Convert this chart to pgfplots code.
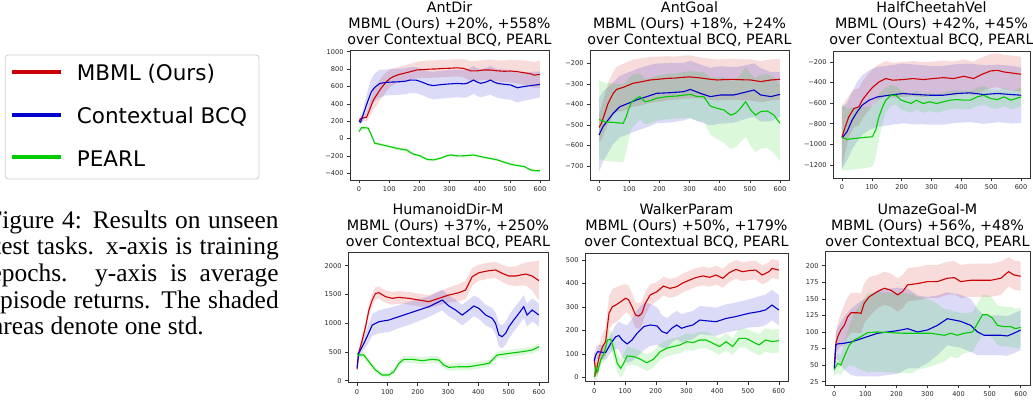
\documentclass[border=0pt]{standalone}
\usepackage{pgfplots}
\pgfplotsset{compat=1.18}
\usepackage{pgfplotstable}
\usepgfplotslibrary{fillbetween}
\usepackage{fontspec}
\setmainfont{Liberation Serif}
\newfontfamily\dv{DejaVu Sans}
\newcommand\tickfont{\dv\fontsize{6.6}{7.5}\selectfont}
\newcommand\titlefont{\dv\fontsize{14.3}{16}\selectfont}
\newcommand\legfont{\dv\fontsize{21.5}{24}\selectfont}
\newcommand\capfont{\rmfamily\fontsize{25.4}{26.7}\selectfont}
\definecolor{cR}{RGB}{204,0,0}
\definecolor{cB}{RGB}{0,0,204}
\definecolor{cG}{RGB}{0,204,0}

% ---------- AntDir ----------
\pgfplotstableread{
x m s
0 200 30
5 230 40
15 240 40
25 245 50
35 330 80
47 440 110
58 500 120
69 560 120
80 610 120
91 655 110
102 690 100
113 712 95
130 735 90
147 750 90
170 770 90
191 790 95
214 795 100
236 800 100
258 802 100
280 808 100
303 810 100
325 815 100
347 808 105
358 795 110
370 780 110
392 780 115
414 790 115
436 790 120
459 780 120
481 775 125
503 778 130
525 770 135
548 758 140
570 745 145
581 730 150
600 740 160
}\adR
\pgfplotstableread{
x m s
0 200 20
5 190 30
12 260 60
19 330 90
30 440 130
41 540 150
52 590 160
69 635 160
86 645 150
102 650 150
120 652 150
136 655 150
153 660 150
169 674 150
191 672 150
214 643 150
230 620 155
247 610 160
263 618 160
280 624 160
303 630 160
325 635 160
347 630 160
358 636 160
380 674 160
392 650 160
403 636 160
420 650 160
436 674 165
448 650 165
459 636 165
481 625 170
503 617 170
525 585 170
540 595 165
559 605 160
580 615 155
600 624 150
}\adB
\pgfplotstableread{
x m s
0 80 15
8 125 15
20 125 15
30 120 15
41 40 15
52 -55 15
69 -65 15
86 -80 15
102 -93 15
120 -108 20
136 -120 20
158 -131 20
170 -160 20
180 -178 15
203 -200 15
225 -239 15
247 -246 15
269 -227 15
290 -200 15
303 -189 15
325 -198 15
336 -200 15
360 -195 15
380 -189 15
400 -205 15
414 -216 15
436 -230 15
459 -246 15
480 -270 15
503 -296 15
525 -310 15
548 -323 15
570 -362 15
585 -370 15
600 -370 15
}\adG
% ---------- AntGoal ----------
\pgfplotstableread{
x m s
0 -512 70
8 -492 80
19 -443 90
30 -395 100
47 -346 105
58 -327 110
80 -317 115
113 -297 115
140 -290 115
169 -281 112
200 -277 110
225 -273 108
250 -272 105
280 -268 105
300 -266 105
336 -271 100
360 -276 100
392 -281 100
420 -279 100
447 -278 100
475 -280 100
503 -281 100
536 -289 100
570 -281 100
600 -278 100
}\agR
\pgfplotstableread{
x m s
0 -549 180
13 -508 170
30 -476 160
47 -443 150
69 -411 150
91 -398 150
125 -378 150
158 -362 150
191 -346 145
236 -343 145
280 -338 140
303 -327 140
336 -346 140
369 -362 140
403 -354 140
447 -354 135
492 -338 130
514 -330 130
536 -354 130
570 -362 120
600 -351 110
}\agB
\pgfplotstableread{
x m s
0 -473 190
20 -485 190
50 -488 190
80 -492 190
90 -460 170
97 -427 150
108 -387 130
125 -370 120
136 -362 110
152 -387 110
169 -382 110
191 -370 110
225 -362 110
258 -359 110
303 -351 115
325 -362 120
347 -362 120
369 -408 140
392 -419 150
414 -427 160
436 -452 165
453 -443 165
469 -419 165
486 -387 170
503 -427 175
519 -452 180
536 -435 180
558 -432 180
580 -452 185
600 -492 185
}\agG
% ---------- HalfCheetahVel ----------
\pgfplotstableread{
x m s
0 -929 300
11 -829 250
23 -732 200
40 -652 180
57 -635 180
68 -571 180
85 -506 180
102 -448 180
124 -394 170
147 -361 170
170 -377 170
204 -371 170
238 -361 170
272 -371 170
306 -361 165
340 -352 165
374 -361 165
408 -339 165
441 -361 165
470 -319 165
498 -287 165
521 -281 165
543 -297 165
566 -306 170
600 -319 170
}\hcR
\pgfplotstableread{
x m s
0 -940 300
17 -877 280
34 -765 280
51 -684 290
68 -619 290
91 -571 290
119 -539 290
158 -523 290
204 -506 290
249 -516 290
294 -523 285
340 -523 285
385 -506 285
430 -500 285
475 -516 285
521 -506 280
566 -516 280
600 -523 270
}\hcB
\pgfplotstableread{
x m s
0 -930 320
17 -952 300
45 -942 300
79 -932 300
102 -926 290
113 -861 260
124 -732 220
136 -635 160
147 -571 120
164 -523 100
181 -523 90
198 -571 90
215 -587 90
232 -603 90
249 -571 90
272 -603 90
294 -587 90
317 -603 90
340 -587 90
362 -571 90
385 -565 90
408 -571 90
430 -571 90
453 -539 90
475 -523 90
498 -555 90
521 -565 90
543 -539 90
566 -571 90
600 -539 90
}\hcG
% ---------- HumanoidDir-M ----------
\pgfplotstableread{
x m s
0 197 30
5 475 60
17 707 80
28 939 100
39 1229 110
50 1403 110
61 1519 110
72 1530 110
94 1461 110
116 1432 110
138 1449 110
171 1432 110
204 1403 110
237 1374 110
270 1432 120
303 1490 130
336 1530 150
358 1577 160
369 1693 160
380 1809 150
402 1878 140
435 1913 140
457 1925 140
479 1867 150
501 1820 160
523 1820 170
556 1855 200
578 1820 250
600 1739 350
}\hdR
\pgfplotstableread{
x m s
0 230 40
5 475 60
17 591 100
33 765 150
50 968 190
72 1026 200
105 1055 210
138 1113 200
171 1171 200
204 1229 190
237 1287 180
259 1345 180
281 1403 180
303 1299 180
325 1229 180
347 1142 180
369 1229 180
385 1299 180
402 1258 180
424 1142 180
446 1084 180
457 997 190
468 794 200
479 765 200
490 823 200
501 939 200
517 1055 200
534 1171 200
550 1287 200
561 1142 200
578 1229 200
600 1142 200
}\hdB
\pgfplotstableread{
x m s
0 475 30
5 446 40
22 446 50
39 330 60
61 185 50
83 99 40
105 99 40
121 156 50
138 301 60
154 371 60
182 371 60
215 348 60
248 371 60
270 359 60
286 272 60
303 232 60
336 243 60
369 243 60
402 272 60
435 301 60
462 446 60
501 475 60
545 504 60
578 533 60
600 591 60
}\hdG
% ---------- WalkerParam ----------
\pgfplotstableread{
x m s
0 81 30
5 17 40
16 88 50
27 131 55
37 152 60
48 273 70
59 301 75
70 308 75
86 322 70
102 337 60
112 330 60
123 301 55
134 266 55
145 261 55
155 273 50
166 315 50
182 351 45
204 365 40
225 389 40
246 379 40
268 386 40
289 403 40
311 415 40
332 426 40
354 432 40
375 426 40
396 436 40
418 422 40
439 446 40
461 460 40
482 450 40
504 455 40
525 457 40
546 436 40
568 450 40
578 464 40
600 457 40
}\wpR
\pgfplotstableread{
x m s
0 70 30
5 95 30
11 109 30
37 105 30
54 145 40
70 173 50
80 178 60
91 159 70
107 142 80
123 159 90
139 187 100
161 216 100
182 223 90
204 219 80
220 195 70
236 187 65
252 209 60
268 223 60
284 209 60
300 216 60
321 223 60
343 244 60
364 241 60
396 237 60
429 251 60
461 259 60
504 273 60
536 280 65
557 287 65
578 308 65
600 287 65
}\wpB
\pgfplotstableread{
x m s
0 0 20
5 45 25
11 24 25
21 74 30
32 102 35
43 159 40
54 162 40
64 116 40
75 60 40
86 38 40
96 60 40
107 91 40
129 88 35
150 77 35
171 62 35
193 77 35
214 109 35
236 124 35
257 131 35
279 138 35
300 152 35
321 148 35
343 159 35
364 159 35
386 145 35
407 131 35
429 152 35
450 131 35
471 166 40
493 166 40
514 152 45
536 138 45
557 159 50
578 152 50
600 156 50
}\wpG
% ---------- UmazeGoal-M ----------
\pgfplotstableread{
x m s
0 45 10
5 83 15
11 93 20
21 103 25
32 110 30
43 123 30
54 129 30
75 129 30
86 128 30
96 143 30
112 153 30
139 161 25
161 166 25
182 163 25
204 156 25
220 161 25
236 171 25
268 173 25
300 176 25
332 176 25
364 181 25
386 182 25
407 176 25
439 178 25
471 178 25
504 178 25
536 181 25
561 191 22
578 186 22
600 184 22
}\umR
\pgfplotstableread{
x m s
0 45 10
5 81 20
11 82 25
32 83 40
54 85 50
75 88 55
107 93 60
139 98 65
171 100 65
204 102 65
236 105 60
268 100 55
300 103 50
332 110 45
364 120 40
386 118 40
407 116 40
439 110 40
461 100 35
482 95 30
504 95 30
536 95 30
557 94 30
578 98 30
600 103 30
}\umB
\pgfplotstableread{
x m s
0 43 10
11 53 15
21 50 15
32 63 20
48 80 30
64 88 40
86 93 50
107 99 60
139 100 60
182 99 60
225 98 60
250 98 60
268 98 55
311 98 50
354 95 40
375 98 35
396 95 35
418 98 30
445 100 30
461 113 30
477 126 30
493 126 30
509 121 30
525 110 30
546 108 30
568 108 30
584 105 30
600 107 30
}\umG

\newcommand{\band}[3]{%
  \addplot[draw=none, forget plot, name path=#3u] table[x=x, y expr=\thisrow{m}+\thisrow{s}] {#1};
  \addplot[draw=none, forget plot, name path=#3l] table[x=x, y expr=\thisrow{m}-\thisrow{s}] {#1};
  \addplot[fill=#2, fill opacity=0.14, draw=none, forget plot] fill between[of=#3u and #3l];
}
\newcommand{\meanline}[2]{\addplot[#2, line width=1.1pt, forget plot] table[x=x, y=m] {#1};}
\newcommand{\threeseries}[3]{%
  \band{#1}{cR}{r}\band{#2}{cB}{b}\band{#3}{cG}{g}%
  \meanline{#1}{cR}\meanline{#2}{cB}\meanline{#3}{cG}%
}

\pgfplotsset{
  panel/.style={
    scale only axis, anchor=south west,
    xmin=-30, xmax=630,
    xtick={0,100,200,300,400,500,600},
    xticklabels={0,100,200,300,400,500,600},
    tick align=outside, tick pos=left, major tick length=3pt,
    axis line style={black!80, line width=0.6pt},
    tick style={black!80, line width=0.5pt},
    tick label style={font=\tickfont, text=black!85},
  }
}

\begin{document}
\begin{tikzpicture}
\path (0pt,0pt) rectangle (1033pt,398pt);

% legend
\draw[black!18, line width=0.8pt, rounded corners=3pt, fill=white] (5.3pt,219pt) rectangle (259pt,343pt);
\draw[cR, line width=4pt] (11.7pt,326.3pt) -- (60.7pt,326.3pt);
\draw[cB, line width=4pt] (11.7pt,283pt) -- (60.7pt,283pt);
\draw[cG, line width=4pt] (11.7pt,241pt) -- (60.7pt,241pt);
\node[font=\legfont, anchor=base west, inner sep=0pt] at (76.7pt,317.3pt) {MBML (Ours)};
\node[font=\legfont, anchor=base west, inner sep=0pt] at (76.7pt,274.7pt) {Contextual BCQ};
\node[font=\legfont, anchor=base west, inner sep=0pt] at (76.7pt,231.3pt) {PEARL};

% caption (left edge cut as in the reference)
\begin{scope}
\clip (0pt,0pt) rectangle (300pt,398pt);
\node[font=\capfont, anchor=base west, inner sep=0pt] at (-12pt,169.7pt) {\makebox[290.5pt][s]{Figure 4: Results on unseen}};
\node[font=\capfont, anchor=base west, inner sep=0pt] at (-6pt,143pt) {\makebox[284.5pt][s]{test tasks. x-axis is training}};
\node[font=\capfont, anchor=base west, inner sep=0pt] at (-9.6pt,116.3pt) {\makebox[288.1pt][s]{epochs. y-axis is average}};
\node[font=\capfont, anchor=base west, inner sep=0pt] at (-11.3pt,89.7pt) {\makebox[289.8pt][s]{episode returns. The shaded}};
\node[font=\capfont, anchor=base west, inner sep=0pt] at (-8pt,63pt) {areas denote one std.};
\end{scope}

% titles
\begin{scope}
\clip (0pt,0pt) rectangle (1033pt,398pt);
\node[font=\titlefont, align=center, anchor=base, inner sep=0pt] at (449.5pt,353pt) {AntDir\\MBML (Ours) +20\%, +558\%\\over Contextual BCQ, PEARL};
\node[font=\titlefont, align=center, anchor=base, inner sep=0pt] at (689.5pt,353pt) {AntGoal\\MBML (Ours) +18\%, +24\%\\over Contextual BCQ, PEARL};
\node[font=\titlefont, align=center, anchor=base, inner sep=0pt] at (931.5pt,353pt) {HalfCheetahVel\\MBML (Ours) +42\%, +45\%\\over Contextual BCQ, PEARL};
\node[font=\titlefont, align=center, anchor=base, inner sep=0pt] at (448pt,151.3pt) {HumanoidDir-M\\MBML (Ours) +37\%, +250\%\\over Contextual BCQ, PEARL};
\node[font=\titlefont, align=center, anchor=base, inner sep=0pt] at (686.5pt,151.3pt) {WalkerParam\\MBML (Ours) +50\%, +179\%\\over Contextual BCQ, PEARL};
\node[font=\titlefont, align=center, anchor=base, inner sep=0pt] at (927.5pt,151.3pt) {UmazeGoal-M\\MBML (Ours) +56\%, +48\%\\over Contextual BCQ, PEARL};
\end{scope}

% AntDir
\begin{axis}[panel, at={(350pt,218pt)}, width=199pt, height=130pt,
  ymin=-477, ymax=1020,
  ytick={-400,-200,0,200,400,600,800,1000},
  yticklabels={−400,−200,0,200,400,600,800,1000}]
\threeseries{\adR}{\adB}{\adG}
\end{axis}
% AntGoal
\begin{axis}[panel, at={(590pt,218pt)}, width=199pt, height=130pt,
  ymin=-768, ymax=-135,
  ytick={-700,-600,-500,-400,-300,-200},
  yticklabels={−700,−600,−500,−400,−300,−200}]
\threeseries{\agR}{\agB}{\agG}
\end{axis}
% HalfCheetahVel
\begin{axis}[panel, at={(833pt,219.7pt)}, width=197pt, height=126.6pt,
  ymin=-1330, ymax=-100,
  ytick={-1200,-1000,-800,-600,-400,-200},
  yticklabels={−1200,−1000,−800,−600,−400,−200}]
\threeseries{\hcR}{\hcB}{\hcG}
\end{axis}
% HumanoidDir-M
\begin{axis}[panel, at={(348pt,15.3pt)}, width=200pt, height=130.4pt,
  ymin=-35, ymax=2233,
  ytick={0,500,1000,1500,2000},
  yticklabels={0,500,1000,1500,2000}]
\threeseries{\hdR}{\hdB}{\hdG}
\end{axis}
% WalkerParam
\begin{axis}[panel, at={(585pt,16.3pt)}, width=203pt, height=128.4pt,
  ymin=-18.8, ymax=528.6,
  ytick={0,100,200,300,400,500},
  yticklabels={0,100,200,300,400,500}]
\threeseries{\wpR}{\wpB}{\wpG}
\end{axis}
% UmazeGoal-M
\begin{axis}[panel, at={(825pt,13pt)}, width=205pt, height=133.3pt,
  ymin=20, ymax=221.1,
  ytick={25,50,75,100,125,150,175,200},
  yticklabels={25,50,75,100,125,150,175,200}]
\threeseries{\umR}{\umB}{\umG}
\end{axis}
\end{tikzpicture}
\end{document}
